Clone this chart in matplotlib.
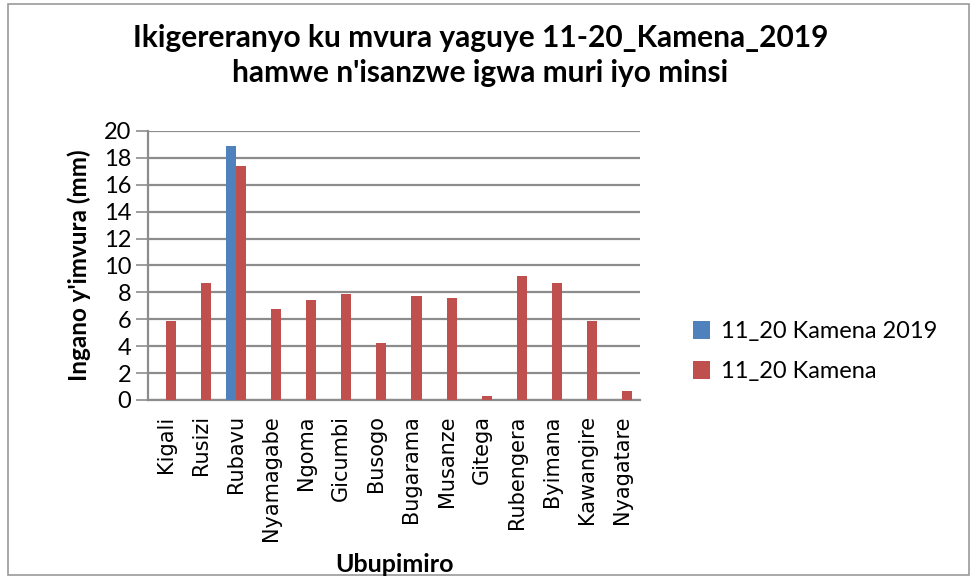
import numpy as np
import matplotlib.pyplot as plt
from matplotlib.patches import Rectangle

# Data
stations = ["Kigali", "Rusizi", "Rubavu", "Nyamagabe", "Ngoma", "Gicumbi", "Busogo",
            "Bugarama", "Musanze", "Gitega", "Rubengera", "Byimana", "Kawangire", "Nyagatare"]
kamena_2019 = [0, 0, 18.9, 0, 0, 0, 0, 0, 0, 0, 0, 0, 0, 0]
kamena_avg = [5.9, 8.7, 17.4, 6.8, 7.4, 7.9, 4.2, 7.7, 7.6, 0.3, 9.2, 8.7, 5.9, 0.7]
yticks = list(range(0, 21, 2))

blue = "#4F81BD"
red = "#C0504D"
grid_c = "#8C8C8C"

fig = plt.figure(figsize=(9.76, 5.79), dpi=100)
ax = fig.add_axes([0.1516, 0.3092, 0.504, 0.4646])

x = np.arange(len(stations))
w = 1 / 3.5
ax.bar(x - w / 2, kamena_2019, width=w, color=blue, linewidth=0, label="11_20 Kamena 2019", zorder=3)
ax.bar(x + w / 2, kamena_avg, width=w, color=red, linewidth=0, label="11_20 Kamena", zorder=3)

ax.set_xlim(-0.5, len(stations) - 0.5)
ax.set_ylim(0, 20)
ax.set_yticks(yticks)
ax.set_yticklabels([str(t) for t in yticks], fontsize=17, family="Lato")
ax.set_xticks(x)
ax.set_xticklabels(stations, rotation=90, fontsize=15, family="DejaVu Sans", va="top")
ax.tick_params(axis="x", length=0, pad=11)
ax.tick_params(axis="y", length=9, width=1.2, color=grid_c, pad=3)
ax.yaxis.grid(True, color=grid_c, linewidth=1.6, zorder=0)
ax.set_axisbelow(True)
for s in ["top", "right"]:
    ax.spines[s].set_visible(False)
for s in ["left", "bottom"]:
    ax.spines[s].set_color(grid_c)
    ax.spines[s].set_linewidth(1.6)

ax.set_ylabel("Ingano y'imvura (mm)", fontsize=17.5, fontweight="bold", family="Lato", labelpad=9)
fig.text(0.404, 1 - 565 / 579, "Ubupimiro", fontsize=18, fontweight="bold", family="Lato",
         ha="center", va="center")

fig.text(0.492, 1 - 38 / 579, "Ikigereranyo ku mvura yaguye 11-20_Kamena_2019",
         fontsize=21.5, fontweight="bold", family="Lato", ha="center", va="center")
fig.text(0.492, 1 - 73 / 579, "hamwe n'isanzwe igwa muri iyo minsi",
         fontsize=21.5, fontweight="bold", family="Lato", ha="center", va="center")

leg = fig.legend(loc="upper left", bbox_to_anchor=(0.688, 1 - 300 / 579), frameon=False,
                 prop={"family": "Lato", "size": 17}, handlelength=0.75, handleheight=0.75,
                 handletextpad=0.45, labelspacing=0.8)

# chart frame
fig.patches.append(Rectangle((8 / 976, 4 / 579), 961 / 976, 571 / 579, transform=fig.transFigure,
                             fill=False, edgecolor="#9A9A9A", linewidth=1.2))

fig.savefig("out.png", dpi=100)
